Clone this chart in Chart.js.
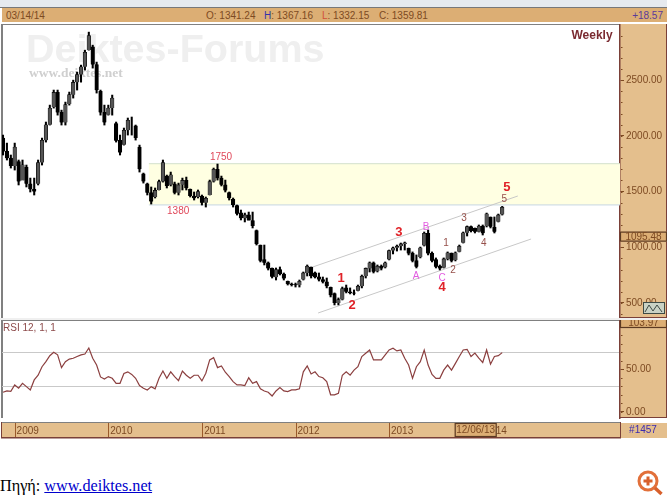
<!DOCTYPE html>
<html>
<head>
<meta charset="utf-8">
<title>Weekly</title>
<script src="https://cdn.jsdelivr.net/npm/chart.js@4/dist/chart.umd.min.js"></script>
<style>
    html, body { margin: 0; padding: 0; background: #fff; width: 667px; height: 499px; overflow: hidden; }
    canvas { position: absolute; left: 0; }
    .strip { position: absolute; left: 0; top: 0; width: 667px; height: 7px; background: #e6eaef; border-bottom: 1px solid #77787a; }
    .head { position: absolute; left: 2px; top: 8px; width: 665px; height: 14px; background: #dcae74; font: 10px "Liberation Sans", Arial, sans-serif; color: #7d4a22; }
    .head span { position: absolute; top: 2px; white-space: pre; }
    .gap { position: absolute; left: 0; top: 318px; width: 667px; height: 2px; background: #f0f0f0; }
    .src { position: absolute; left: 0; top: 477px; font: 16.2px "Liberation Serif", "Times New Roman", serif; color: #000; }
    .src a { color: #0000cc; }
    .loupe { position: absolute; left: 636px; top: 469px; }
</style>
</head>
<body>
<div class="strip"></div>
<div class="head">
    <span style="left:4px">03/14/14</span>
    <span style="left:204px">O: 1341.24</span>
    <span style="left:262px"><b style="color:#3333aa;font-weight:normal">H</b>: 1367.16</span>
    <span style="left:320px"><b style="color:#d0503a;font-weight:normal">L</b>: 1332.15</span>
    <span style="left:377px">C: 1359.81</span>
    <span style="right:4px;color:#5a3a9a">+18.57</span>
</div>
<canvas id="precioChart" width="667" height="294" style="top:24px"></canvas>
<div class="gap"></div>
<canvas id="rsiChart" width="667" height="119" style="top:320px"></canvas>
<div class="src">Πηγή: <a href="#">www.deiktes.net</a></div>
<svg class="loupe" width="30" height="28" viewBox="0 0 30 28">
    <circle cx="12" cy="12" r="9" fill="#fff" stroke="#e2703a" stroke-width="3"/>
    <path d="M12 7.5v9M7.5 12h9" stroke="#d8602c" stroke-width="3"/>
    <path d="M19 19l6.5 6" stroke="#d8602c" stroke-width="3.5"/>
</svg>

<script>
// Datos (quincenal)
const periods = [
    '2008-11-15','2008-12-01','2008-12-15',
    '2009-01-01','2009-01-15','2009-02-01','2009-02-15','2009-03-01','2009-03-15','2009-04-01','2009-04-15','2009-05-01','2009-05-15','2009-06-01','2009-06-15','2009-07-01','2009-07-15','2009-08-01','2009-08-15','2009-09-01','2009-09-15','2009-10-01','2009-10-15','2009-11-01','2009-11-15','2009-12-01','2009-12-15',
    '2010-01-01','2010-01-15','2010-02-01','2010-02-15','2010-03-01','2010-03-15','2010-04-01','2010-04-15','2010-05-01','2010-05-15','2010-06-01','2010-06-15','2010-07-01','2010-07-15','2010-08-01','2010-08-15','2010-09-01','2010-09-15','2010-10-01','2010-10-15','2010-11-01','2010-11-15','2010-12-01','2010-12-15',
    '2011-01-01','2011-01-15','2011-02-01','2011-02-15','2011-03-01','2011-03-15','2011-04-01','2011-04-15','2011-05-01','2011-05-15','2011-06-01','2011-06-15','2011-07-01','2011-07-15','2011-08-01','2011-08-15','2011-09-01','2011-09-15','2011-10-01','2011-10-15','2011-11-01','2011-11-15','2011-12-01','2011-12-15',
    '2012-01-01','2012-01-15','2012-02-01','2012-02-15','2012-03-01','2012-03-15','2012-04-01','2012-04-15','2012-05-01','2012-05-15','2012-06-01','2012-06-15','2012-07-01','2012-07-15','2012-08-01','2012-08-15','2012-09-01','2012-09-15','2012-10-01','2012-10-15','2012-11-01','2012-11-15','2012-12-01','2012-12-15',
    '2013-01-01','2013-01-15','2013-02-01','2013-02-15','2013-03-01','2013-03-15','2013-04-01','2013-04-15','2013-05-01','2013-05-15','2013-06-01','2013-06-15','2013-07-01','2013-07-15','2013-08-01','2013-08-15','2013-09-01','2013-09-15','2013-10-01','2013-10-15','2013-11-01','2013-11-15','2013-12-01','2013-12-15',
    '2014-01-01','2014-01-15','2014-02-01','2014-02-15','2014-03-01','2014-03-15'
];
const highs = [
    2007,1935,1828,1935,1783,1783,1738,1621,1621,1783,
    1980,2124,2276,2411,2411,2231,2303,2393,2500,2572,
    2635,2769,2931,2814,2662,2411,2276,2276,2366,2124,
    2007,2070,2160,2169,2097,1917,1666,1576,1541,1532,
    1603,1783,1648,1675,1585,1576,1621,1630,1523,1496,
    1514,1469,1451,1603,1711,1747,1639,1603,1496,1442,
    1379,1334,1307,1316,1316,1155,1020,1020,868,814,
    814,823,769,697,679,679,706,778,841,823,
    778,769,733,724,643,590,545,643,661,635,
    617,661,751,814,868,868,841,841,868,975,
    1002,1020,1038,1047,993,958,931,1002,1137,1155,
    958,904,841,904,958,949,958,1020,1137,1191,
    1191,1173,1200,1200,1307,1272,1272,1298,1367
];
const lows = [
    1828,1783,1711,1693,1559,1648,1541,1496,1469,1559,
    1738,1944,2097,2249,2186,2097,2097,2276,2339,2411,
    2482,2590,2769,2608,2384,2186,2097,2186,2186,1944,
    1828,1917,2007,2007,1962,1675,1576,1469,1388,1442,
    1514,1585,1532,1550,1478,1469,1514,1514,1451,1424,
    1442,1379,1361,1469,1585,1603,1550,1496,1424,1361,
    1289,1245,1227,1245,1173,1020,868,841,796,724,
    706,751,706,661,652,643,643,706,742,724,
    724,697,679,635,554,482,482,527,590,581,
    572,608,635,724,778,769,778,796,814,886,
    940,966,975,975,931,868,814,904,1011,931,
    868,814,796,814,886,868,877,958,1038,1101,
    1137,1128,1137,1110,1182,1173,1128,1227,1289
];
const opens = [
    1980,1860,1800,1730,1770,1600,1720,1570,1520,1570,
    1760,1960,2100,2260,2390,2210,2120,2285,2370,2480,
    2550,2620,2770,2800,2640,2400,2210,2190,2250,2110,
    1960,1920,2050,2140,2090,1900,1660,1570,1490,1450,
    1515,1590,1640,1560,1570,1490,1560,1600,1520,1460,
    1450,1460,1400,1470,1590,1700,1620,1560,1490,1430,
    1375,1310,1260,1290,1240,1150,1020,890,860,810,
    730,800,760,695,670,665,660,710,770,820,
    770,735,710,690,640,585,500,530,635,600,
    590,610,650,740,810,860,785,830,820,890,
    970,995,1010,1030,990,945,880,910,1015,1125,
    945,890,830,815,895,945,885,960,1040,1130,
    1185,1170,1140,1190,1190,1270,1180,1230,1295
];
const closes = [
    1860,1800,1730,1900,1590,1740,1570,1520,1500,1760,
    1960,2100,2250,2390,2210,2120,2280,2370,2480,2550,
    2620,2750,2900,2640,2410,2210,2120,2250,2340,1960,
    1850,2050,2140,2140,1980,1700,1590,1490,1410,1510,
    1590,1760,1550,1650,1490,1560,1600,1530,1460,1440,
    1500,1400,1440,1590,1700,1620,1560,1510,1440,1380,
    1300,1260,1290,1240,1190,1030,880,860,810,735,
    800,760,720,670,665,660,695,770,830,740,
    730,710,690,650,570,500,530,630,600,590,
    585,650,740,810,860,780,830,810,860,970,
    995,1010,1030,1040,945,880,825,995,1125,945,
    880,825,810,895,950,880,950,1010,1130,1185,
    1145,1140,1190,1125,1300,1185,1140,1290,1360
];
const rsiValues = [
    23,24.5,24,31.6,27.7,33.5,29.6,25.7,37.5,43,
    53,59,66,70,67,52,59,62,63,65,
    67,68,75,63,55,41,38.6,41.4,39.4,33.5,
    33.5,45,47,44,39.4,30.8,27.7,25.7,29.6,27,
    39.4,48,39.4,47,41.4,36.7,48,43,39.4,43,
    43,36.3,45.3,61,63.7,52,54,46.5,41.4,35.5,
    31.6,31.6,30.8,40,33.5,35.5,27,24.5,23,18.6,
    24.5,28.4,24.5,23.7,25.7,25.7,27,47,54,44.5,
    47,41.4,40,35.5,20,20,21.8,43,47,43,
    49,53,65,68.8,72.7,61,61,61,67,72.7,
    74.7,71.6,72.7,63,55,39.4,53,59,72.7,55,
    44,39.4,39.4,49,55,49,57,65,72.7,73.5,
    65,69,63,58,72.7,56,65,66,69.6
];
const yearLabels = ['2009', '2010', '2011', '2012', '2013', '2014'];
const priceTicks = [500, 1000, 1500, 2000, 2500];
const rsiTicks = [0, 50];
const rsiGuides = [30, 70];
const zoneTop = 1750;
const zoneBottom = 1380;
const zoneStart = 37.4;
const upperChannelX = [78.7, 132];
const upperChannelY = [814, 1460];
const lowerChannelX = [80.8, 135.4];
const lowerChannelY = [410, 1074];
const lastPrice = 1095.48;
const cursorDate = '12/06/13';
const cursorIndex = 121.2;

// Etiquetas: texto, indice, precio, tipo
const waveLabels = [
    ['1750', 55.9, 1810, 'level'], ['1380', 44.9, 1325, 'level'],
    ['1', 86.7, 724, 'big'], ['2', 89.5, 482, 'big'], ['3', 101.5, 1137, 'big'], ['4', 112.6, 635, 'big'], ['5', 129.2, 1541, 'big'],
    ['A', 105.9, 742, 'abc'], ['B', 108.5, 1182, 'abc'], ['C', 112.6, 724, 'abc'],
    ['1', 113.6, 1038, 'small'], ['2', 115.4, 796, 'small'], ['3', 118.2, 1262, 'small'], ['4', 123.3, 1038, 'small'], ['5', 128.5, 1433, 'small']
];
const waveStyles = {
    level: ['#e0485a', '10px "Liberation Sans"'],
    big: ['#e02228', 'bold 13px "Liberation Sans"'],
    abc: ['#e25ce0', '10px "Liberation Sans"'],
    small: ['#96504a', '10px "Liberation Sans"']
};

const TAN = '#e4bf8d';
const BROWN = '#7d4a22';
const EDGE = '#7a4038';
const AXIS_FONT = { family: '"Liberation Sans"', size: 10 };
const X_MIN = -0.26;
const X_MAX = 158.2;

function pairs(xs, ys) {
    return xs.map((x, i) => ({ x: x, y: ys[i] }));
}

// Sin el margen extra que Chart.js deja para las etiquetas
function noPadding(s) {
    s.paddingTop = 0;
    s.paddingBottom = 0;
    s.paddingLeft = 0;
    s.paddingRight = 0;
}

// Columna del eje y borde del panel
function paintFrame(chart) {
    const c = chart.ctx, a = chart.chartArea;
    c.save();
    c.fillStyle = TAN;
    c.fillRect(a.right, a.top - 1, chart.width - a.right - 1, a.bottom - a.top + 1);
    c.fillStyle = '#808080';
    c.fillRect(a.left - 1, a.top - 1, a.right - a.left + 1, 1);
    c.fillRect(a.left - 1, a.top - 1, 2, a.bottom - a.top + 1);
    c.fillStyle = EDGE;
    c.fillRect(chart.width - 1, a.top - 1, 1, a.bottom - a.top + 1);
    c.fillRect(a.right, a.bottom - 1, chart.width - a.right, 1);
    c.restore();
}

// Puntitos de los ticks menores sobre el eje
function paintMinorDots(chart) {
    const c = chart.ctx, s = chart.scales.y;
    c.save();
    c.fillStyle = BROWN;
    s.ticks.forEach(t => {
        c.fillRect(chart.chartArea.right + 1, Math.round(s.getPixelForValue(t.value)), 1.5, 1);
    });
    c.restore();
}

function valueBox(c, text, x1, x2, y1, y2) {
    c.fillStyle = '#dcae74';
    c.fillRect(x1, y1, x2 - x1, y2 - y1);
    c.strokeStyle = '#5c3a22';
    c.lineWidth = 1.2;
    c.strokeRect(x1 + 0.5, y1 + 0.5, x2 - x1 - 1, y2 - y1 - 1);
    c.fillStyle = BROWN;
    c.font = '10px "Liberation Sans"';
    c.textAlign = 'center';
    c.textBaseline = 'middle';
    c.fillText(text, (x1 + x2) / 2, (y1 + y2) / 2 + 0.5);
}

const preciosPlugin = {
    id: 'precios',
    beforeDraw: paintFrame,
    beforeDatasetsDraw(chart) {
        const c = chart.ctx, a = chart.chartArea, x = chart.scales.x, y = chart.scales.y;
        c.save();
        // marca de agua
        c.textAlign = 'left';
        c.textBaseline = 'alphabetic';
        c.fillStyle = '#efefef';
        c.font = 'bold 39.5px "Liberation Sans"';
        c.fillText('Deiktes-Forums', 26, 38);
        c.fillStyle = '#cfcfcf';
        c.font = 'bold 13.5px "Liberation Serif"';
        c.fillText('www.deiktes.net', 29, 53);
        // zona 1380 - 1750
        const left = x.getPixelForValue(zoneStart);
        const top = y.getPixelForValue(zoneTop);
        const bottom = y.getPixelForValue(zoneBottom);
        c.fillStyle = '#ffffe2';
        c.fillRect(left, top, a.right - left, bottom - top);
        c.fillStyle = '#d3e0cc';
        c.fillRect(left, top - 0.5, a.right - left, 1);
        c.fillStyle = '#c7d6e2';
        c.fillRect(left, bottom - 0.5, a.right - left, 1);
        c.restore();
    },
    afterDraw(chart) {
        const c = chart.ctx, x = chart.scales.x, y = chart.scales.y, a = chart.chartArea;
        c.save();
        paintMinorDots(chart);
        c.textAlign = 'center';
        c.textBaseline = 'middle';
        waveLabels.forEach(l => {
            c.fillStyle = waveStyles[l[3]][0];
            c.font = waveStyles[l[3]][1];
            c.fillText(l[0], x.getPixelForValue(l[1]), y.getPixelForValue(l[2]));
        });
        c.fillStyle = '#7a2a30';
        c.font = 'bold 12px "Liberation Sans"';
        c.fillText('Weekly', 592, 12);
        const py = y.getPixelForValue(lastPrice);
        valueBox(c, lastPrice.toFixed(2), a.right, chart.width, py - 5, py + 5);
        // iconito de la esquina del eje
        const ix = 643, iy = 278;
        c.fillStyle = '#c9d2c4';
        c.fillRect(ix, iy, 22, 12);
        c.strokeStyle = '#3d4a44';
        c.lineWidth = 1;
        c.strokeRect(ix + 0.5, iy + 0.5, 21, 11);
        c.beginPath();
        c.moveTo(ix + 2, iy + 10);
        c.lineTo(ix + 6, iy + 3);
        c.lineTo(ix + 10, iy + 9);
        c.lineTo(ix + 14, iy + 3);
        c.lineTo(ix + 19, iy + 10);
        c.stroke();
        c.restore();
    }
};

const rsiPlugin = {
    id: 'rsi',
    beforeDraw(chart) {
        const c = chart.ctx, a = chart.chartArea, x = chart.scales.x, y = chart.scales.y;
        paintFrame(chart);
        c.save();
        // barra de fechas
        const barTop = a.bottom + 4, barBottom = a.bottom + 20;
        c.fillStyle = '#808080';
        c.fillRect(a.left - 1, barTop, a.right - a.left + 1, 1);
        c.fillStyle = TAN;
        c.fillRect(a.left - 1, barTop + 1, chart.width - a.left + 1, barBottom - barTop - 1);
        c.fillStyle = EDGE;
        c.fillRect(a.left - 1, barBottom - 1, a.right - a.left + 2, 1.5);
        c.fillRect(a.left - 1, barTop, 1, barBottom - barTop);
        c.fillRect(a.right, barTop, 1, barBottom - barTop);
        c.fillStyle = '#9a5a2a';
        x.ticks.forEach(t => {
            c.fillRect(Math.round(x.getPixelForValue(t.value)), barTop + 1, 1, barBottom - barTop - 2);
        });
        // guias 30 / 70
        c.fillStyle = '#c9c9c9';
        rsiGuides.forEach(v => {
            c.fillRect(a.left, Math.round(y.getPixelForValue(v)), a.right - a.left, 1);
        });
        c.fillStyle = '#8d4a4a';
        c.font = '10px "Liberation Sans"';
        c.textAlign = 'left';
        c.textBaseline = 'middle';
        c.fillText('RSI 12, 1, 1', 3, 8);
        c.restore();
    },
    afterDraw(chart) {
        const c = chart.ctx, a = chart.chartArea, x = chart.scales.x;
        c.save();
        paintMinorDots(chart);
        valueBox(c, '103.97', a.right, chart.width, -3, 8);
        const barTop = a.bottom + 4;
        const cx = x.getPixelForValue(cursorIndex);
        valueBox(c, cursorDate, cx - 21, cx + 21, barTop + 1, barTop + 15);
        c.fillStyle = '#3a2ab0';
        c.font = '10px "Liberation Sans"';
        c.fillText('#1457', 643, barTop + 8);
        c.restore();
    }
};

document.addEventListener('DOMContentLoaded', function() {
    const wickData = periods.map((p, i) => ({ x: i, y: [lows[i], highs[i]] }));
    const bodyData = periods.map((p, i) => ({ x: i, y: [opens[i], closes[i]] }));
    const bodyColors = periods.map((p, i) => closes[i] >= opens[i] ? '#555555' : '#000000');
    const yearIndexes = yearLabels.map(y => periods.indexOf(y + '-01-01'));
    const rsiData = periods.map((p, i) => ({ x: i, y: rsiValues[i] }));

    new Chart(document.getElementById('precioChart').getContext('2d'), {
        type: 'bar',
        data: {
            datasets: [
                { type: 'bar', data: bodyData, backgroundColor: bodyColors, borderColor: '#000', borderWidth: 0.6, barThickness: 3.6, grouped: false, order: 1 },
                { type: 'bar', data: wickData, backgroundColor: '#000', barThickness: 1.4, grouped: false, order: 2 },
                { type: 'line', data: pairs(upperChannelX, upperChannelY), borderColor: '#c8c8c8', borderWidth: 1, pointRadius: 0, order: 3 },
                { type: 'line', data: pairs(lowerChannelX, lowerChannelY), borderColor: '#c8c8c8', borderWidth: 1, pointRadius: 0, order: 3 }
            ]
        },
        options: {
            responsive: false,
            animation: false,
            events: [],
            layout: { padding: { left: 2, right: 1, top: 1 } },
            plugins: { legend: { display: false }, tooltip: { enabled: false } },
            scales: {
                x: { type: 'linear', offset: false, min: X_MIN, max: X_MAX, display: false },
                y: {
                    position: 'right',
                    min: 365,
                    max: 2995,
                    afterFit: s => { s.width = 46; noPadding(s); },
                    border: { color: EDGE, width: 1.5 },
                    grid: {
                        drawOnChartArea: false,
                        tickLength: 4,
                        tickColor: t => priceTicks.includes(t.tick.value) ? BROWN : 'transparent'
                    },
                    ticks: {
                        stepSize: 100,
                        autoSkip: false,
                        includeBounds: false,
                        padding: 2,
                        color: BROWN,
                        font: AXIS_FONT,
                        callback: v => priceTicks.includes(v) ? v.toFixed(2) : ''
                    }
                }
            }
        },
        plugins: [preciosPlugin]
    });

    new Chart(document.getElementById('rsiChart').getContext('2d'), {
        type: 'line',
        data: {
            datasets: [{ data: rsiData, borderColor: '#8b3f3f', borderWidth: 1.2, pointRadius: 0, tension: 0 }]
        },
        options: {
            responsive: false,
            animation: false,
            events: [],
            layout: { padding: { left: 2, right: 1, top: 1 } },
            plugins: { legend: { display: false }, tooltip: { enabled: false } },
            scales: {
                x: {
                    type: 'linear',
                    offset: false,
                    min: X_MIN,
                    max: X_MAX,
                    afterFit: s => { s.height = 21; noPadding(s); },
                    afterBuildTicks: s => { s.ticks = yearIndexes.map(v => ({ value: v })); },
                    border: { display: false },
                    grid: { display: false, drawTicks: false },
                    ticks: {
                        autoSkip: false,
                        maxRotation: 0,
                        padding: 7,
                        labelOffset: 13,
                        color: BROWN,
                        font: AXIS_FONT,
                        callback: v => yearLabels[yearIndexes.indexOf(v)]
                    }
                },
                y: {
                    position: 'right',
                    min: -7.3,
                    max: 106.8,
                    afterFit: s => { s.width = 46; noPadding(s); },
                    border: { color: EDGE, width: 1.5 },
                    grid: {
                        drawOnChartArea: false,
                        tickLength: 4,
                        tickColor: t => rsiTicks.includes(t.tick.value) ? BROWN : 'transparent'
                    },
                    ticks: {
                        stepSize: 10,
                        autoSkip: false,
                        includeBounds: false,
                        padding: 2,
                        color: BROWN,
                        font: AXIS_FONT,
                        callback: v => rsiTicks.includes(v) ? v.toFixed(2) : ''
                    }
                }
            }
        },
        plugins: [rsiPlugin]
    });
});
</script>
</body>
</html>
